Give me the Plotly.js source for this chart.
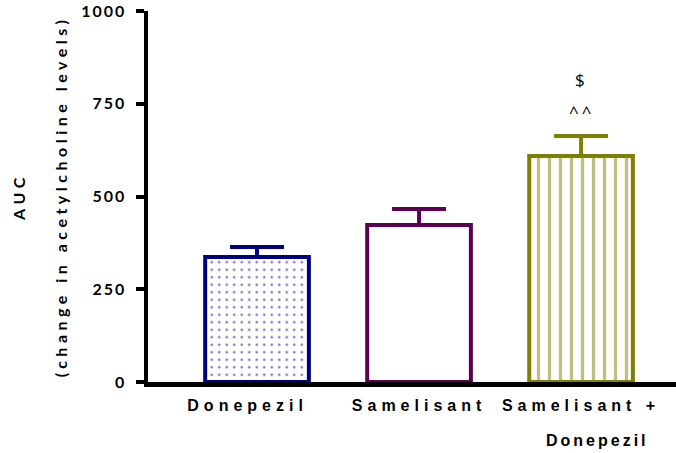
<!DOCTYPE html>
<html><head><meta charset="utf-8">
<script src="https://cdn.plot.ly/plotly-3.0.1.min.js"></script>
<style>
body{margin:0;padding:0;background:#fff;}
#chart{width:676px;height:453px;}
.xtick text{letter-spacing:5px;}
.ytick text{letter-spacing:2px;}
.ytitle{letter-spacing:4.5px;}
.annotation-text{letter-spacing:3px;}
</style>
</head><body><div id="chart"></div>
<script>
const categories = ["Donepezil&nbsp;&nbsp;", "Samelisant", "Samelisant +"];
const categoryLine2 = "Donepezil";
const means = [337, 423, 609];
const sems = [27, 43, 54];
const colors = ["#000080", "#5C0052", "#808000"];
const patterns = [".", "", "|"];
const annoText = ["^^", "$"];
const annoY = [730, 815];

const traces = categories.map((c, i) => ({
  type: "bar",
  x: [i],
  y: [means[i]],
  width: 0.64,
  marker: {
    color: "#ffffff",
    line: {color: colors[i], width: 4},
    pattern: {shape: patterns[i], fgcolor: colors[i], bgcolor: "#ffffff",
      size: i === 0 ? 7.5 : 11, solidity: i === 0 ? 0.11 : 0.3, fillmode: "overlay"}
  },
  error_y: {type: "data", symmetric: false, array: [sems[i]], arrayminus: [0],
    color: colors[i], thickness: 4, width: 27},
  showlegend: false,
  hoverinfo: "skip"
}));

const annotations = annoText.map((t, k) => ({
  x: 2, y: annoY[k], xref: "x", yref: "y", text: t, showarrow: false,
  font: {family: "'Open Sans', sans-serif", size: 17, color: "#000"}
}));
annotations.push({
  x: 2.1, y: 0, xref: "x", yref: "paper", yanchor: "middle", yshift: -58, text: categoryLine2,
  showarrow: false,
  font: {family: "'Liberation Sans', Arial, sans-serif", size: 16, weight: 700, color: "#000"}
});

const layout = {
  width: 676, height: 453,
  margin: {l: 148, r: 0, t: 11, b: 71},
  paper_bgcolor: "#fff", plot_bgcolor: "#fff",
  font: {family: "Lato, 'Open Sans', sans-serif", color: "#000"},
  xaxis: {
    range: [-0.673, 2.586],
    tickmode: "array", tickvals: [0, 1, 2], ticktext: categories,
    showline: true, linewidth: 5, linecolor: "#000",
    ticks: "", showgrid: false, zeroline: false,
    tickfont: {family: "'Liberation Sans', Arial, sans-serif", size: 16, weight: 700},
    ticklabelstandoff: 5
  },
  yaxis: {
    range: [0, 1000], tickvals: [0, 250, 500, 750, 1000],
    showline: true, linewidth: 4.5, linecolor: "#000",
    ticks: "outside", ticklen: 8, tickwidth: 4, tickcolor: "#000",
    showgrid: false, zeroline: false,
    ticklabelstandoff: 6,
    tickfont: {family: "Lato, sans-serif", size: 16, weight: 700},
    title: {text: "AUC<br><br>(change in acetylcholine levels)", standoff: 11,
      font: {family: "Lato, sans-serif", size: 16, weight: 700}}
  },
  annotations: annotations,
  bargap: 0.3
};
Plotly.newPlot("chart", traces, layout, {displayModeBar: false, staticPlot: true});
</script></body></html>
